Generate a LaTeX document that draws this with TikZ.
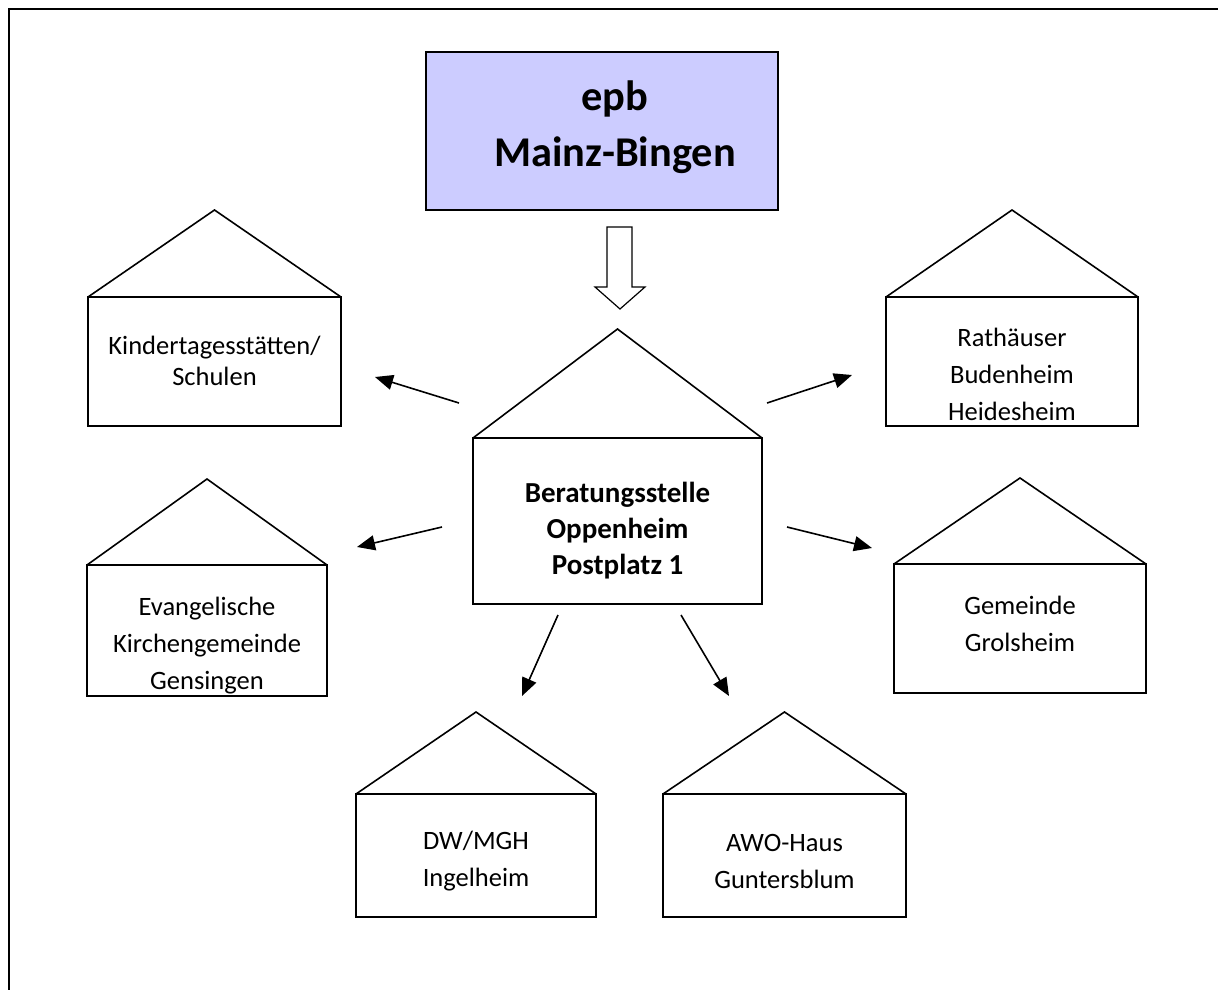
\documentclass[tikz,border=0pt]{standalone}
\usepackage{fontspec}
\setmainfont{Carlito}
\usetikzlibrary{arrows.meta}

\definecolor{lila}{RGB}{204,204,255}

\tikzset{
  haus/.style={draw, line width=1.6pt, inner sep=0pt, outer sep=0pt},
  pfeil/.style={line width=1.6pt, -{Triangle[length=18pt, width=15pt]}},
  schrift/.style={align=center, inner sep=0pt, font=\fontsize{26.5}{37}\selectfont},
}

% Dach auf einen Kasten setzen
\newcommand{\dach}[2]{\draw[line width=1.6pt] (#1.north west) -- ([yshift=#2]#1.north) -- (#1.north east);}

\begin{document}
\begin{tikzpicture}[x=1pt, y=-1pt]
    \useasboundingbox (0,0) rectangle (1218,990);
    \draw[line width=2.4pt] (9,990) -- (9,9) -- (1218,9);

    % Traeger
    \node[haus, fill=lila, minimum width=352, minimum height=158] (epb) at (602,131) {};
    \node[align=center, inner sep=0pt, font=\bfseries\fontsize{42.4}{56}\selectfont] (epb-text) at ([shift={(13pt,4pt)}]epb.center) {epb\\Mainz-Bingen};
    \draw[line width=1.2pt] (607,227) -- (632,227) -- (632,287) -- (645,287) -- (620,309) -- (595,287) -- (607,287) -- cycle;

    % Beratungsstelle
    \node[haus, minimum width=289, minimum height=166] (ber) at (617.5,521) {};
    \dach{ber}{109pt}
    \node[schrift, font=\bfseries\fontsize{29}{36}\selectfont] (ber-text) at ([yshift=-10pt]ber.center) {Beratungsstelle\\Oppenheim\\Postplatz 1};

    % Aussenstellen
    \node[haus, minimum width=253, minimum height=129] (kita) at (214.5,361.5) {};
    \dach{kita}{87pt}
    \node[schrift, font=\fontsize{26.5}{31}\selectfont] (kita-text) at ([yshift=1pt]kita.center) {Kindertagesstätten/\\Schulen};

    \node[haus, minimum width=252, minimum height=129] (rat) at (1012,361.5) {};
    \dach{rat}{87pt}
    \node[schrift] (rat-text) at ([yshift=-12.5pt]rat.center) {Rathäuser\\Budenheim\\Heidesheim};

    \node[haus, minimum width=240, minimum height=131] (evk) at (207,630.5) {};
    \dach{evk}{86pt}
    \node[schrift] (evk-text) at ([yshift=-15pt]evk.center) {Evangelische\\Kirchengemeinde\\Gensingen};

    \node[haus, minimum width=252, minimum height=129] (gem) at (1020,628.5) {};
    \dach{gem}{86pt}
    \node[schrift] (gem-text) at ([yshift=5pt]gem.center) {Gemeinde\\Grolsheim};

    \node[haus, minimum width=240, minimum height=123] (dw) at (476,855.5) {};
    \dach{dw}{82pt}
    \node[schrift] (dw-text) at ([yshift=-6pt]dw.center) {DW/MGH\\Ingelheim};

    \node[haus, minimum width=243, minimum height=123] (awo) at (784.5,855.5) {};
    \dach{awo}{82pt}
    \node[schrift] (awo-text) at ([yshift=-6pt]awo.center) {AWO-Haus\\Guntersblum};

    % Pfeile
    \coordinate (p1a) at (459,403); \coordinate (p1b) at (375,377);
    \coordinate (p2a) at (767,403); \coordinate (p2b) at (852,375);
    \coordinate (p3a) at (442,527); \coordinate (p3b) at (357,547);
    \coordinate (p4a) at (787,527); \coordinate (p4b) at (872,548);
    \coordinate (p5a) at (558,615); \coordinate (p5b) at (522,696);
    \coordinate (p6a) at (681,615); \coordinate (p6b) at (729,696);
    \foreach \i in {1,...,6}
        \draw[pfeil] (p\i a) -- (p\i b);
\end{tikzpicture}
\end{document}
